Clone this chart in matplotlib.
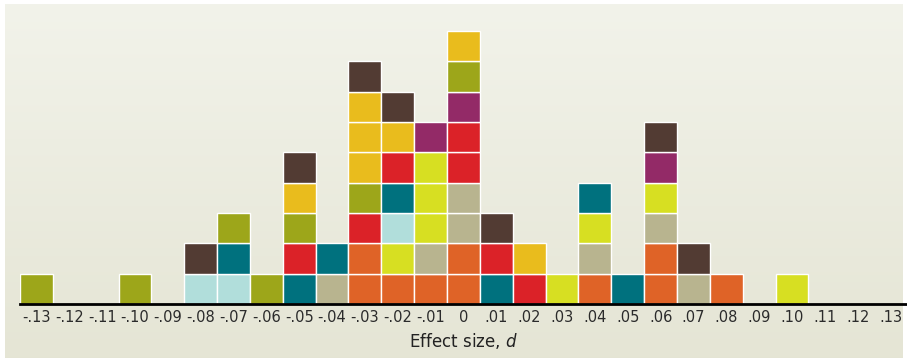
import numpy as np
import matplotlib.pyplot as plt

plt.rcParams['font.family'] = ['Liberation Sans Narrow', 'DejaVu Sans']
plt.rcParams['mathtext.fontset'] = 'custom'
plt.rcParams['mathtext.rm'] = 'Liberation Sans Narrow'
plt.rcParams['mathtext.it'] = 'Liberation Sans Narrow:italic'

# effect sizes (column positions) and tick labels
effects = [round(-0.13 + 0.01 * i, 2) for i in range(27)]
tick_labels = ['-.13', '-.12', '-.11', '-.10', '-.09', '-.08', '-.07', '-.06', '-.05',
               '-.04', '-.03', '-.02', '-.01', '0', '.01', '.02', '.03', '.04', '.05',
               '.06', '.07', '.08', '.09', '.10', '.11', '.12', '.13']

# tiles per column, bottom to top
stacks = [
    ['olive'],
    [],
    [],
    ['olive'],
    [],
    ['cyan', 'brown'],
    ['cyan', 'teal', 'olive'],
    ['olive'],
    ['teal', 'red', 'olive', 'gold', 'brown'],
    ['tan', 'teal'],
    ['orange', 'orange', 'red', 'olive', 'gold', 'gold', 'gold', 'brown'],
    ['orange', 'lime', 'cyan', 'teal', 'red', 'gold', 'brown'],
    ['orange', 'tan', 'lime', 'lime', 'lime', 'purple'],
    ['orange', 'orange', 'tan', 'tan', 'red', 'red', 'purple', 'olive', 'gold'],
    ['teal', 'red', 'brown'],
    ['red', 'gold'],
    ['lime'],
    ['orange', 'tan', 'lime', 'teal'],
    ['teal'],
    ['orange', 'orange', 'tan', 'lime', 'purple', 'brown'],
    ['tan', 'brown'],
    ['orange'],
    [],
    ['lime'],
    [],
    [],
    [],
]

palette = {
    'olive': '#9da61a',
    'cyan': '#b1dedb',
    'brown': '#523b33',
    'teal': '#00717e',
    'red': '#db2228',
    'gold': '#e9bc1d',
    'tan': '#b8b48f',
    'orange': '#df6327',
    'lime': '#d7df22',
    'purple': '#932a67',
}

fig = plt.figure(figsize=(9.07, 3.61), dpi=100)
fig.patch.set_facecolor('white')

# soft gradient panel behind the chart
bg = fig.add_axes([0.005, 0.008, 0.99, 0.982])
grad = np.linspace(0, 1, 256).reshape(-1, 1)
top = np.array([0.949, 0.953, 0.918])
bot = np.array([0.898, 0.898, 0.835])
img = top + (bot - top) * grad[:, :, None]
bg.imshow(img, aspect='auto', extent=[0, 1, 0, 1])
bg.axis('off')

ax = fig.add_axes([0.022, 0.158, 0.978, 0.828])
ax.patch.set_alpha(0)
for x, stack in zip(effects, stacks):
    for level, key in enumerate(stack):
        ax.bar(x, 1, width=0.01, bottom=level, color=palette[key],
               edgecolor='white', linewidth=1.0)

ax.set_xlim(-0.135, 0.135)
ax.set_ylim(0, 9.85)
ax.set_xticks(effects)
ax.set_xticklabels(tick_labels, fontsize=10.5, color='#2b2b2b')
ax.tick_params(axis='x', length=0, pad=4)
ax.set_yticks([])
for side in ['top', 'left', 'right']:
    ax.spines[side].set_visible(False)
ax.spines['bottom'].set_linewidth(2)
ax.spines['bottom'].set_color('black')
ax.set_xlabel('Effect size, $d$', fontsize=12, color='#222222', labelpad=5)

fig.savefig('out.png', dpi=100)
